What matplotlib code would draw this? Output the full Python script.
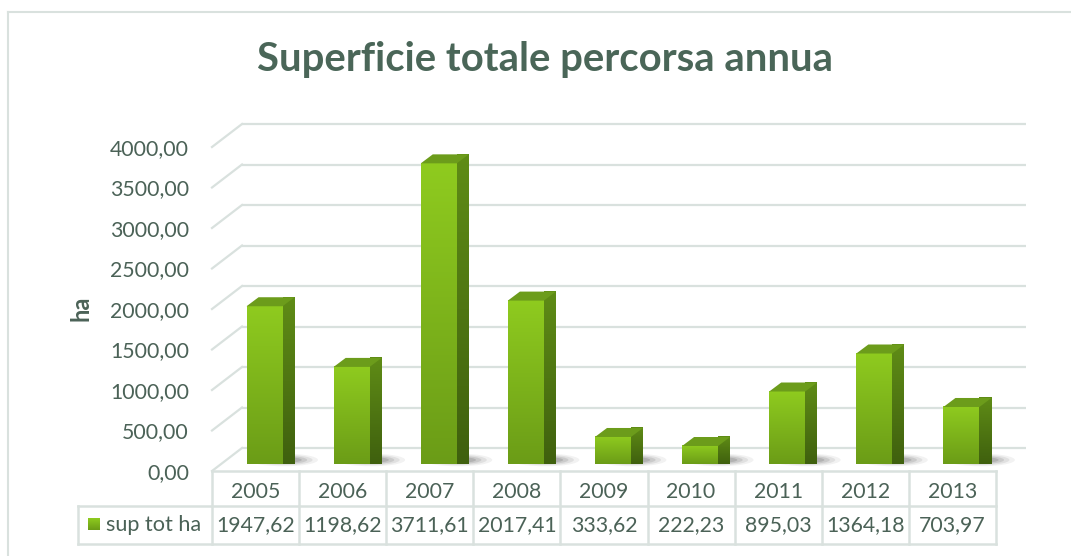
#!/usr/bin/env python3
"""Superficie totale percorsa annua - Excel-like 3D column chart with data table."""

import matplotlib.pyplot as plt
import numpy as np
from matplotlib.colors import LinearSegmentedColormap
from matplotlib.lines import Line2D
from matplotlib.patches import Ellipse, Polygon, Rectangle

# data
years = ["2005", "2006", "2007", "2008", "2009", "2010", "2011", "2012", "2013"]
sup_tot_ha = [1947.62, 1198.62, 3711.61, 2017.41, 333.62, 222.23, 895.03, 1364.18, 703.97]
y_ticks = [0, 500, 1000, 1500, 2000, 2500, 3000, 3500, 4000]
series_label = "sup tot ha"
title = "Superficie totale percorsa annua"
y_label = "ha"

W, H = 1071, 556
TEXT = "#4b6257"
TITLE = "#4a6658"
GRID = "#d9e1de"

front_cmap = LinearSegmentedColormap.from_list("front", ["#6b9c17", "#8fcb1f"])
side_cmap = LinearSegmentedColormap.from_list("side", ["#3f600e", "#5f8c16"])
TOP = "#6c9c1b"


def fmt(v):
    return f"{v:.2f}".replace(".", ",")


plt.rcParams["font.family"] = ["Lato", "DejaVu Sans"]
fig = plt.figure(figsize=(W / 100, H / 100), dpi=100)
fig.patch.set_facecolor("white")

# front plane of the plot area, in pixels
PL, PR, PT, PB = 212, 996, 147, 471
n = len(years)
ax = fig.add_axes([PL / W, 1 - PB / H, (PR - PL) / W, (PB - PT) / H])
ax.set_xlim(0, n)
ax.set_ylim(0, y_ticks[-1])
ax.patch.set_visible(False)
for s in ax.spines.values():
    s.set_visible(False)

ppx = (PR - PL) / n
ppy = (PB - PT) / y_ticks[-1]


def px(dx, dy):
    return dx / ppx, dy / ppy


wall_dx, wall_dy = px(30, 23)
bar_dx, bar_dy = px(9, 7)
depth_dx, depth_dy = px(12, 9)
bar_w = 36 / ppx

ax.set_xticks([])
ax.set_yticks(y_ticks, [fmt(v) for v in y_ticks])
ax.tick_params(axis="y", length=0, pad=23 * 0.72, labelsize=15.3, labelcolor=TEXT)

# back wall grid + left diagonals
for v in y_ticks:
    ax.plot([wall_dx, n + wall_dx], [v + wall_dy] * 2, color=GRID, lw=1.6,
            clip_on=False, zorder=1, solid_capstyle="butt")
    ax.plot([0, wall_dx], [v, v + wall_dy], color=GRID, lw=1.6, clip_on=False, zorder=1)

grad = np.linspace(0, 1, 256).reshape(-1, 1)
for i, v in enumerate(sup_tot_ha):
    x0 = i + 0.5 - bar_w / 2 + bar_dx
    x1 = x0 + bar_w
    y0 = bar_dy
    y1 = bar_dy + v
    # soft shadow behind the base
    for k, a in enumerate([0.07, 0.10, 0.14, 0.18]):
        ax.add_patch(Ellipse((x1 + depth_dx * 0.1, y0 + depth_dy * 0.45),
                             bar_w * (1.9 - 0.3 * k), depth_dy * (1.4 - 0.25 * k),
                             facecolor="#4a4a4a", edgecolor="none", alpha=a,
                             zorder=2, clip_on=False))
    # front face
    front = Rectangle((x0, y0), bar_w, v, facecolor="none", edgecolor="none",
                      zorder=3, clip_on=False)
    ax.add_patch(front)
    im = ax.imshow(grad, extent=[x0, x1, y0, y1], origin="lower", aspect="auto",
                   cmap=front_cmap, zorder=3, clip_on=False)
    im.set_clip_path(front)
    # side face
    side = Polygon([(x1, y0), (x1 + depth_dx, y0 + depth_dy),
                    (x1 + depth_dx, y1 + depth_dy), (x1, y1)],
                   closed=True, facecolor="none", edgecolor="none", zorder=3, clip_on=False)
    ax.add_patch(side)
    im2 = ax.imshow(grad, extent=[x1, x1 + depth_dx, y0, y1 + depth_dy], origin="lower",
                    aspect="auto", cmap=side_cmap, zorder=3, clip_on=False)
    im2.set_clip_path(side)
    # top face
    ax.add_patch(Polygon([(x0, y1), (x1, y1), (x1 + depth_dx, y1 + depth_dy),
                          (x0 + depth_dx, y1 + depth_dy)], closed=True,
                         facecolor=TOP, edgecolor="none", zorder=3, clip_on=False))

ax.set_xlim(0, n)
ax.set_ylim(0, y_ticks[-1])

# data table
TL = 78
tab = fig.add_axes([TL / W, 1 - 544 / H, (PR - TL) / W, (544 - PB) / H])
x_left = -(PL - TL) / ppx
tab.set_xlim(x_left, n)
tab.set_ylim(73, 0)
tab.axis("off")
lk = dict(color=GRID, lw=1.8, clip_on=False)
tab.plot([0, n], [0, 0], **lk)
for i in range(n + 1):
    tab.plot([i, i], [0, 73], **lk)
tab.plot([x_left, n], [35, 35], **lk)
tab.plot([x_left, n], [73, 73], **lk)
tab.plot([x_left, x_left], [35, 73], **lk)
for i, (yr, v) in enumerate(zip(years, sup_tot_ha)):
    tab.text(i + 0.5, 21, yr, ha="center", va="center", fontsize=15.3, color=TEXT)
    tab.text(i + 0.5, 54, fmt(v), ha="center", va="center", fontsize=15.3, color=TEXT)
key = Rectangle(((88 - PL) / ppx, 47), 12 / ppx, 12, facecolor="none", edgecolor="none")
tab.add_patch(key)
kim = tab.imshow(grad, extent=[(88 - PL) / ppx, (100 - PL) / ppx, 59, 47], origin="lower",
                 aspect="auto", cmap=front_cmap)
kim.set_clip_path(key)
tab.set_xlim(x_left, n)
tab.set_ylim(73, 0)
tab.text((106 - PL) / ppx, 54, series_label, ha="left", va="center", fontsize=15.6, color=TEXT)

# title, axis label, chart border
fig.text(545 / W, 1 - 60 / H, title, ha="center", va="center", fontsize=28.8,
         fontweight="bold", color=TITLE)
fig.text(81 / W, 1 - 308 / H, y_label, ha="center", va="center", rotation=90,
         fontsize=17, fontweight="bold", color=TEXT)
fig.add_artist(Line2D([8 / W, 8 / W], [0, 1 - 12 / H], color=GRID, lw=1.5))
fig.add_artist(Line2D([8 / W, 1], [1 - 12 / H, 1 - 12 / H], color=GRID, lw=1.5))

fig.savefig("out.png", dpi=100)
